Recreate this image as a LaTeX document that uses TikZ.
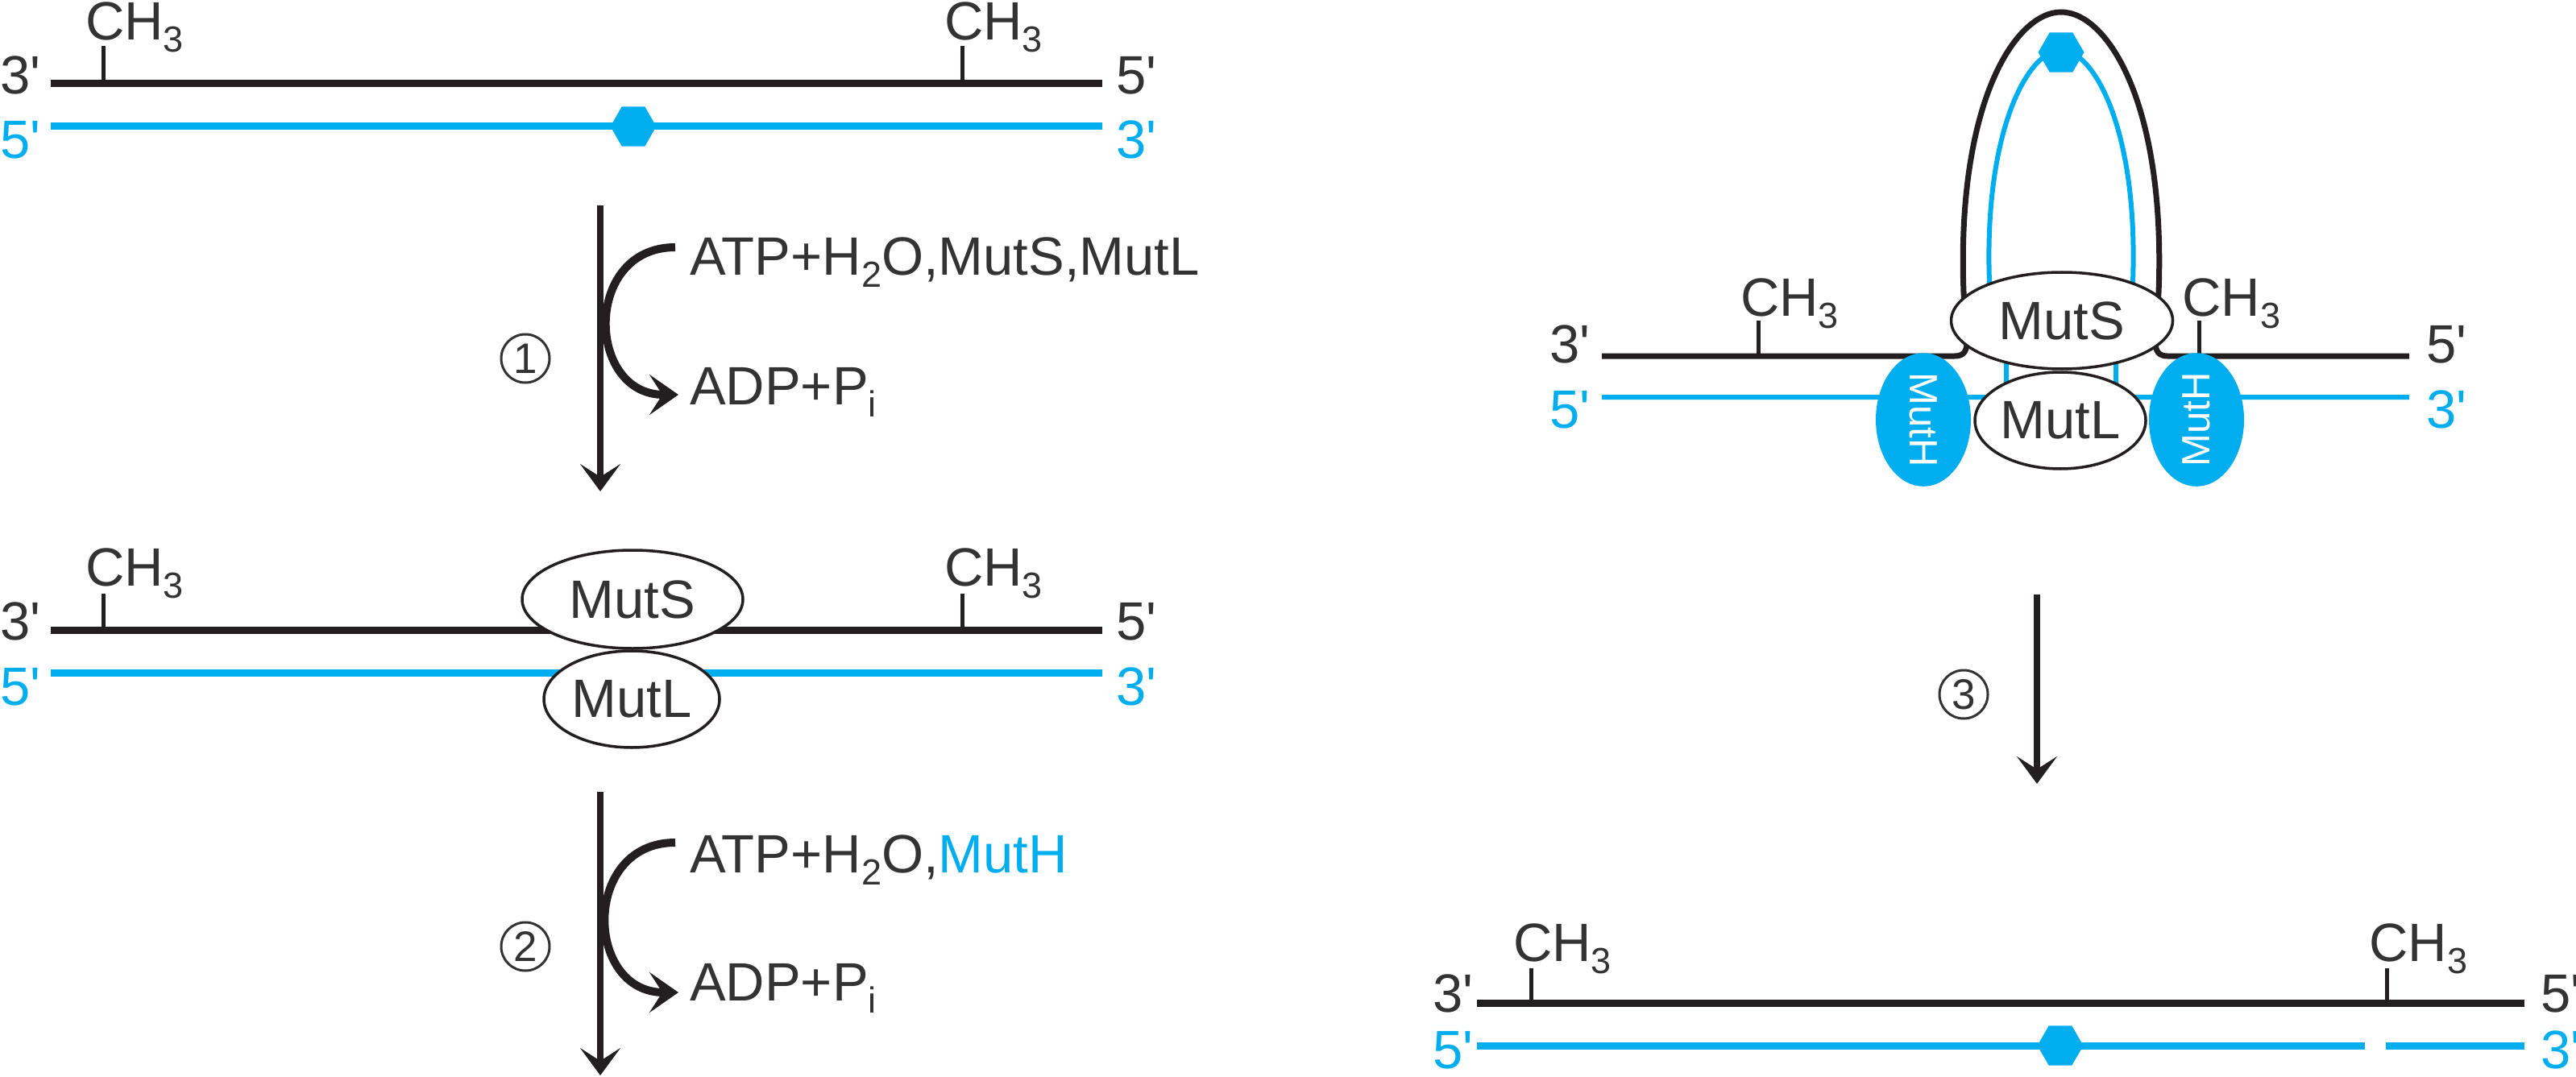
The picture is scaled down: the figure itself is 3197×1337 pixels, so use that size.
\documentclass[tikz,border=0pt]{standalone}
\usepackage{fontspec}
\setmainfont{Liberation Sans}
\usetikzlibrary{arrows.meta,shapes.geometric}
\definecolor{cblue}{HTML}{00AEEF}
\definecolor{cline}{HTML}{231F20}
\definecolor{ctext}{HTML}{333333}
\newcommand\mysub[1]{\raisebox{-15pt}{\fontsize{45}{45}\selectfont #1}}
\newcommand\pr{\textquotesingle}
\begin{document}
\begin{tikzpicture}[x=1pt,y=-1pt,
  big/.style={font=\fontsize{67}{67}\selectfont, text=ctext, inner sep=0, anchor=base west},
  bluelab/.style={big, text=cblue},
  bstrand/.style={line width=9, cline},
  cstrand/.style={line width=9, cblue},
  bthin/.style={line width=7, cline},
  cthin/.style={line width=6, cblue},
  methyltick/.style={line width=5, cline},
  prot/.style={ellipse, draw=cline, line width=3.5, fill=white, inner sep=0, font=\fontsize{67}{67}\selectfont, text=ctext},
  muth/.style={ellipse, fill=cblue, inner sep=0, font=\fontsize{49}{49}\selectfont, text=white},
  hexa/.style={regular polygon, regular polygon sides=6, fill=cblue, minimum size=57, inner sep=0, outer sep=0},
  numc/.style={circle, draw=ctext, line width=3, minimum size=60, inner sep=0, font=\fontsize{53}{53}\selectfont, text=ctext},
  mainarrow/.style={line width=8, cline, -{Stealth[length=34, width=50, inset=16]}},
  curvearrow/.style={line width=10, cline, -{Stealth[length=36, width=50, inset=16]}},
]
\useasboundingbox (0,0) rectangle (3197,1337);

% ---------- top-left DNA ----------
\draw[bstrand] (63,104) -- (1368,104);
\draw[cstrand] (63,157) -- (1368,157);
\draw[methyltick] (128,104) -- (128,57);
\draw[methyltick] (1194,104) -- (1194,57);
\node[big] (ch1) at (106,50) {CH\mysub{3}};
\node[big] (ch2) at (1172,50) {CH\mysub{3}};
\node[big] (l1) at (0,117) {3\pr};
\node[big] (l2) at (1385,117) {5\pr};
\node[bluelab] (l3) at (0,197) {5\pr};
\node[bluelab] (l4) at (1385,197) {3\pr};
\node[hexa] (hx1) at (786,157) {};

% ---------- step 1 ----------
\coordinate (a1s) at (745,255);
\coordinate (a1e) at (745,610);
\draw[mainarrow] (a1s) -- (a1e);
\coordinate (c1s) at (838,307);
\coordinate (c1e) at (842,490);
\draw[curvearrow] (c1s) to[out=180,in=180,looseness=1.6] (c1e);
\node[big] (t1) at (856,342) {ATP+H\mysub{2}O,MutS,MutL};
\node[big] (t2) at (856,502) {ADP+P\mysub{i}};
\node[numc] (n1) at (652,445) {1};

% ---------- middle-left DNA ----------
\draw[bstrand] (63,782) -- (1368,782);
\draw[cstrand] (63,835) -- (1368,835);
\draw[methyltick] (128,782) -- (128,737);
\draw[methyltick] (1194,782) -- (1194,737);
\node[big] (ch3) at (106,727) {CH\mysub{3}};
\node[big] (ch4) at (1172,727) {CH\mysub{3}};
\node[big] (l5) at (0,794) {3\pr};
\node[big] (l6) at (1385,794) {5\pr};
\node[bluelab] (l7) at (0,875) {5\pr};
\node[bluelab] (l8) at (1385,875) {3\pr};
\node[prot, minimum width=274, minimum height=122] (ms1) at (785,744) {MutS};
\node[prot, minimum width=218, minimum height=120] (ml1) at (784,868) {MutL};

% ---------- step 2 ----------
\coordinate (a2s) at (745,983);
\coordinate (a2e) at (745,1335);
\draw[mainarrow] (a2s) -- (a2e);
\coordinate (c2s) at (838,1046);
\coordinate (c2e) at (842,1232);
\draw[curvearrow] (c2s) to[out=180,in=180,looseness=1.6] (c2e);
\node[big] (t3) at (856,1083) {ATP+H\mysub{2}O,\textcolor{cblue}{MutH}};
\node[big] (t4) at (856,1242) {ADP+P\mysub{i}};
\node[numc] (n2) at (652,1175) {2};

% ---------- right: looped complex ----------
\draw[cthin] (1988,493) -- (2476,493) .. controls (2486,493) and (2490,488) .. (2490,478)
  -- (2490,450) .. controls (2488,420) and (2470,390) .. (2469,350)
  .. controls (2462,160) and (2518,62) .. (2558,62)
  .. controls (2598,62) and (2654,160) .. (2647,350)
  .. controls (2646,390) and (2628,420) .. (2626,450)
  -- (2626,478) .. controls (2626,488) and (2630,493) .. (2640,493) -- (2990,493);
\draw[bthin] (1988,442) -- (2426,442) .. controls (2436,442) and (2441,437) .. (2441,425)
  -- (2437,363) .. controls (2428,130) and (2500,15) .. (2558,15)
  .. controls (2616,15) and (2688,130) .. (2679,363)
  -- (2675,425) .. controls (2675,437) and (2680,442) .. (2690,442) -- (2990,442);
\draw[methyltick] (2182,442) -- (2182,398);
\draw[methyltick] (2729,442) -- (2729,398);
\node[big] (ch5) at (2160,392) {CH\mysub{3}};
\node[big] (ch6) at (2708,392) {CH\mysub{3}};
\node[big] (l9) at (1923,450) {3\pr};
\node[big] (l10) at (3011,450) {5\pr};
\node[bluelab] (l11) at (1923,531) {5\pr};
\node[bluelab] (l12) at (3011,531) {3\pr};
\node[hexa] (hx2) at (2558,65) {};
\node[prot, minimum width=275, minimum height=120] (ms2) at (2559,398) {MutS};
\node[prot, minimum width=212, minimum height=120] (ml2) at (2557,522) {MutL};
\node[muth, minimum width=118, minimum height=146] (mh1) at (2387,521) {\rotatebox{-90}{MutH}};
\node[muth, minimum width=118, minimum height=146] (mh2) at (2726,521) {\rotatebox{90}{MutH}};

% ---------- step 3 ----------
\coordinate (a3s) at (2528,738);
\coordinate (a3e) at (2528,973);
\draw[mainarrow] (a3s) -- (a3e);
\node[numc] (n3) at (2437,862) {3};

% ---------- bottom-right DNA ----------
\draw[bstrand] (1833,1245) -- (3133,1245);
\draw[cstrand] (1833,1298) -- (2935,1298);
\draw[cstrand] (2961,1298) -- (3133,1298);
\draw[methyltick] (1900,1245) -- (1900,1202);
\draw[methyltick] (2962,1245) -- (2962,1202);
\node[big] (ch7) at (1878,1193) {CH\mysub{3}};
\node[big] (ch8) at (2940,1193) {CH\mysub{3}};
\node[big] (l13) at (1778,1256) {3\pr};
\node[big] (l14) at (3153,1256) {5\pr};
\node[bluelab] (l15) at (1778,1326) {5\pr};
\node[bluelab] (l16) at (3153,1326) {3\pr};
\node[hexa] (hx3) at (2557,1298) {};
\end{tikzpicture}
\end{document}
